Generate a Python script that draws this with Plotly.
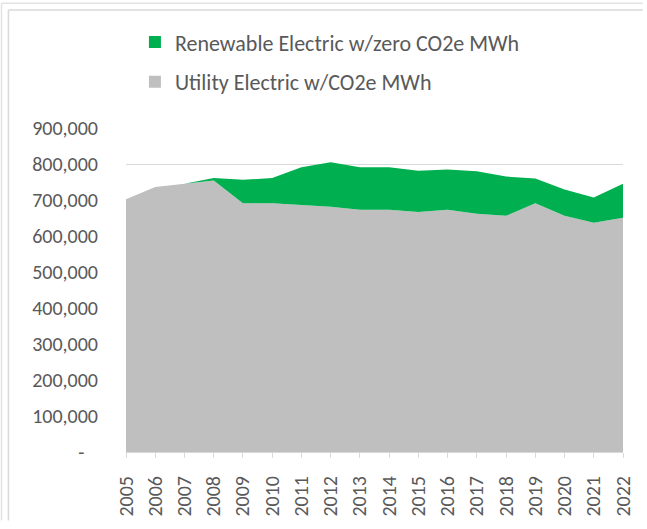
import plotly.graph_objects as go

years = list(range(2005, 2023))
utility_mwh = [702000, 736000, 745000, 754000, 691000, 691000, 686000, 681000, 673000,
               673000, 667000, 673000, 662000, 656000, 691000, 656000, 637000, 651000]
renewable_mwh = [0, 0, 0, 7000, 65000, 70000, 105000, 124000, 118000,
                 118000, 114000, 112000, 118000, 109000, 69000, 73000, 70000, 94000]
y_tickvals = [0, 100000, 200000, 300000, 400000, 500000, 600000, 700000, 800000, 900000]
y_ticktext = ["-\u00a0\u00a0\u00a0"] + [f"{v:,}" for v in y_tickvals[1:]]

FONT = "Carlito, Calibri, Lato, sans-serif"
GREEN = "#00B050"
GRAY = "#BFBFBF"
TXT = "#595959"
W, H = 647, 529
L, R, T, B = 126, 20, 128, 70

fig = go.Figure()
fig.add_trace(go.Scatter(x=years, y=utility_mwh, stackgroup="s", mode="none",
                         fillcolor=GRAY, showlegend=False, name="Utility Electric w/CO2e MWh"))
fig.add_trace(go.Scatter(x=years, y=renewable_mwh, stackgroup="s", mode="none",
                         fillcolor=GREEN, showlegend=False, name="Renewable Electric w/zero CO2e MWh"))
# legend entries
fig.add_trace(go.Scatter(x=[None], y=[None], mode="markers", name="Renewable Electric w/zero CO2e MWh",
                         marker=dict(symbol="square", size=12, color=GREEN), legendgroup="a"))
fig.add_trace(go.Scatter(x=[None], y=[None], mode="markers", name="Utility Electric w/CO2e MWh",
                         marker=dict(symbol="square", size=12, color=GRAY), legendgroup="b"))

pw = W - L - R
ph = H - T - B
def px(x):
    return (x - L) / pw
def py(y):
    return (H - B - y) / ph

shapes = [
    dict(type="line", xref="paper", yref="paper", x0=px(7.5), x1=px(W), y0=py(7.5), y1=py(7.5),
         line=dict(color="#D9D9D9", width=1.5)),
    dict(type="line", xref="paper", yref="paper", x0=px(7.5), x1=px(7.5), y0=py(7.5), y1=py(H),
         line=dict(color="#D9D9D9", width=1.5)),
    dict(type="line", xref="paper", yref="paper", x0=px(0.5), x1=px(W), y0=py(0.5), y1=py(0.5),
         line=dict(color="#E3E3E3", width=1.5)),
    dict(type="line", xref="paper", yref="paper", x0=px(0.5), x1=px(0.5), y0=py(0.5), y1=py(H),
         line=dict(color="#E3E3E3", width=1.5)),
]

fig.update_layout(
    width=W, height=H,
    margin=dict(l=L, r=R, t=T, b=B),
    paper_bgcolor="white", plot_bgcolor="white",
    font=dict(family=FONT, size=20, color=TXT),
    showlegend=True,
    legend=dict(x=px(135), y=py(19), xanchor="left", yanchor="top",
                tracegroupgap=8, itemwidth=30, font=dict(size=22, color=TXT),
                bgcolor="rgba(0,0,0,0)"),
    xaxis=dict(range=[2005, 2022], tickvals=years, ticktext=[str(y) for y in years],
               tickangle=-90, showgrid=False, showline=True, linecolor="#D9D9D9", linewidth=1,
               ticks="outside", ticklen=5, tickcolor="#D9D9D9", ticklabelstandoff=10,
               tickfont=dict(size=20, color=TXT), zeroline=False),
    yaxis=dict(range=[0, 900000], tickvals=y_tickvals, ticktext=y_ticktext,
               showgrid=True, gridcolor="#D9D9D9", gridwidth=1, zeroline=False,
               ticks="", ticklabelstandoff=27, tickfont=dict(size=20, color=TXT)),
    shapes=shapes,
)

post = (
    "document.documentElement.style.margin='0';"
    "document.body.style.margin='0';"
    "document.body.style.overflow='hidden';"
    "var gd=document.getElementById('{plot_id}');"
    "gd.style.position='fixed';gd.style.left='0px';gd.style.top='0px';"
)
fig.write_html("out.html", config={"displayModeBar": False}, post_script=post)
